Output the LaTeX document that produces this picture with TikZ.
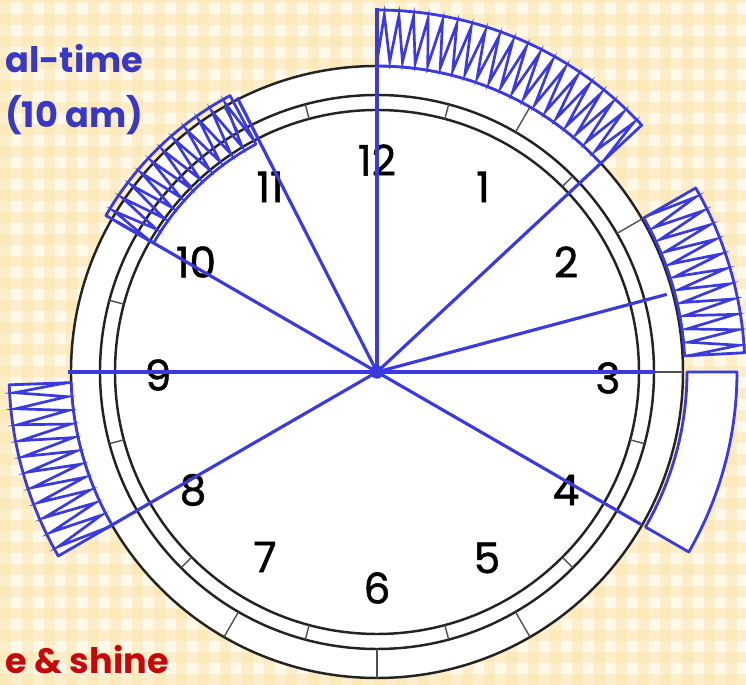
\documentclass[tikz,border=0pt]{standalone}
\usepackage{fontspec}
\setmainfont{Poppins}
\newfontfamily\numfont{Poppins}[FakeBold=1.2]
\newfontfamily\notefont{Poppins}

\definecolor{paper}{RGB}{255,249,234}
\definecolor{check}{RGB}{251,229,172}
\definecolor{pen}{RGB}{58,58,222}
\definecolor{clockgrey}{RGB}{35,35,35}
\definecolor{notes}{RGB}{56,56,196}
\definecolor{rise}{RGB}{196,8,12}

\begin{document}
\begin{tikzpicture}[x=0.03cm, y=0.03cm,
  rim/.style={draw=clockgrey, line width=2.1pt},
  hourtick/.style={draw=clockgrey!80, line width=1.2pt},
  handline/.style={draw=pen, line width=2.7pt},
  band/.style={draw=pen, line width=2.4pt, line join=round},
  hatch/.style={draw=pen, line width=2.3pt},
  hournum/.style={font=\numfont\fontsize{36}{36}\selectfont, text=black, inner sep=0pt},
  note/.style={font=\notefont\bfseries\fontsize{30}{30}\selectfont, inner sep=0pt, anchor=base west}]

  % paper
  \clip (-377,-313) rectangle (369,372);
  \fill[paper] (-377,-313) rectangle (369,372);
  \foreach \i in {0,...,34}
    \fill[check, opacity=0.5] ({-377+22*\i},-313) rectangle +(11,685);
  \foreach \j in {0,...,31}
    \fill[check, opacity=0.5] (-377,{-313+22*\j}) rectangle +(746,11);

  % clock face
  \fill[white] (0,0) circle[radius=306];
  \draw[rim] (0,0) circle[radius=306] (0,0) circle[radius=277] (0,0) circle[radius=262];
  \foreach \a in {0,30,...,330}
    \draw[hourtick] (\a:277) -- (\a:306);
  \foreach \a in {15,45,...,345}
    \draw[hourtick] (\a:262) -- (\a:277);

  % hour numbers
  \foreach \h/\x/\y in {12/0/212, 1/106/185, 2/189/110, 3/231/-6, 4/189/-118, 5/110/-186,
                        6/0/-216, 7/-112/-185, 8/-184/-118, 9/-219/-3, 10/-181/110, 11/-107/185}
    \node[hournum] (h\h) at (\x,\y) {\h};

  % shaded slots
  \foreach \a/\b/\ri/\ro/\n/\f in {43/90/306/362/40/white, 3/30/308/368/22/white,
                                   182/210/306/368/22/white, 118/150/258/313/22/none}
  {
    \filldraw[band, fill=\f] (\a:\ri) arc[start angle=\a, end angle=\b, radius=\ri]
      -- (\b:\ro) arc[start angle=\b, end angle=\a, radius=\ro] -- cycle;
    \draw[hatch] ({\a}:{\ri+5}) \foreach \k in {1,...,\n} { -- ({\a+(\b-\a)*\k/\n}:{\ri+5+(\ro-\ri-10)*mod(\k,2)}) };
  }
  \filldraw[band, fill=white] (-30:310) arc[start angle=-30, end angle=0, radius=310]
    -- (0:360) arc[start angle=0, end angle=-30, radius=360] -- cycle;

  % hands
  \coordinate (c) at (0,0);
  \foreach \n/\a/\r in {1/90/364, 2/117/308, 3/150/300, 4/180/309, 5/210/312,
                        6/43/305, 7/15/300, 8/0/278, 9/-30/304}
  {
    \coordinate (e\n) at (\a:\r);
    \draw[handline] (c) -- (e\n);
  }
  \node[circle, fill=pen, inner sep=0pt, minimum size=0.4cm] (dot) at (c) {};

  % notes
  \node[note, text=notes] (rt) at (-372,299) {al-time};
  \node[note, text=notes] (am) at (-372,244) {(10 am)};
  \node[note, text=rise] (rs) at (-372,-302) {e \& shine};
\end{tikzpicture}
\end{document}
